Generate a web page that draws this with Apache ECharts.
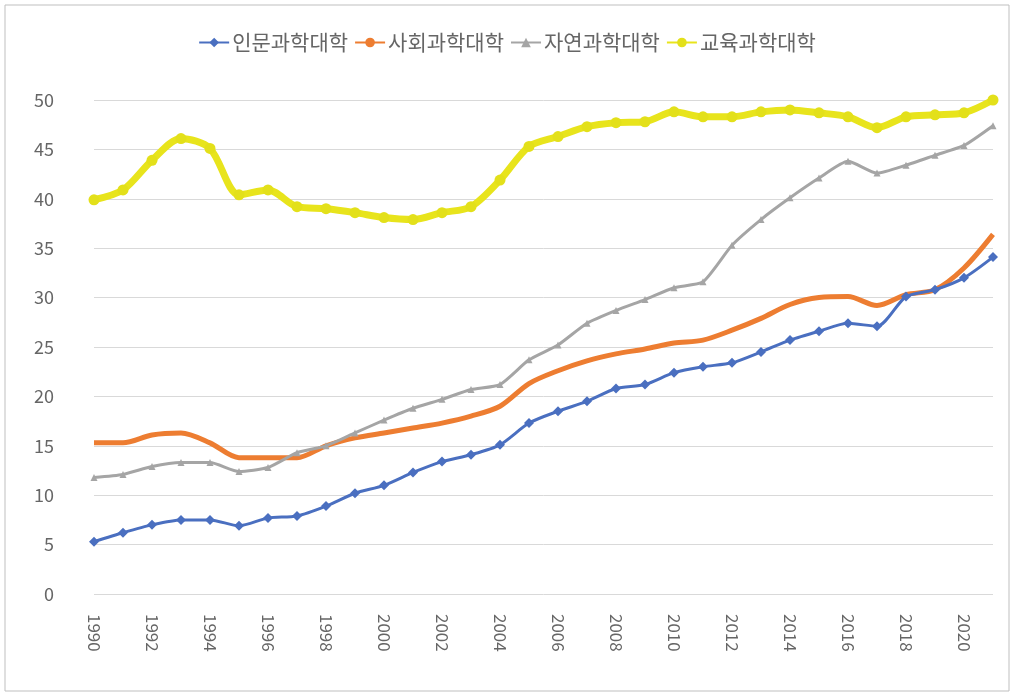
<!DOCTYPE html>
<html>
<head>
<meta charset="utf-8">
<script src="https://cdn.jsdelivr.net/npm/echarts@6/dist/echarts.min.js"></script>
<style>
  html, body { margin: 0; padding: 0; background: #fff; }
  #chart { width: 1014px; height: 695px; }
</style>
</head>
<body>
<div id="chart"></div>
<script>
// years 1990 - 2021
const years = [];
for (let y = 1990; y <= 2021; y++) years.push(String(y));

const seriesNames = ['인문과학대학', '사회과학대학', '자연과학대학', '교육과학대학'];

// 인문과학대학
const humanities = [5.3, 6.2, 7.0, 7.5, 7.5, 6.9, 7.7, 7.9, 8.9, 10.2,
  11.0, 12.3, 13.4, 14.1, 15.1, 17.3, 18.5, 19.5, 20.8, 21.2,
  22.4, 23.0, 23.4, 24.5, 25.7, 26.6, 27.4, 27.1, 30.1, 30.8,
  32.0, 34.1];
// 사회과학대학
const social = [15.3, 15.3, 16.1, 16.3, 15.3, 13.8, 13.8, 13.8, 15.0, 15.8,
  16.3, 16.8, 17.3, 18.0, 19.0, 21.3, 22.6, 23.6, 24.3, 24.8,
  25.4, 25.7, 26.7, 27.9, 29.3, 30.0, 30.1, 29.2, 30.3, 30.8,
  33.0, 36.4];
// 자연과학대학
const natural = [11.8, 12.1, 12.9, 13.3, 13.3, 12.4, 12.8, 14.3, 15.0, 16.3,
  17.6, 18.8, 19.7, 20.7, 21.2, 23.7, 25.2, 27.4, 28.7, 29.8,
  31.0, 31.6, 35.3, 37.9, 40.1, 42.1, 43.8, 42.6, 43.4, 44.4,
  45.4, 47.4];
// 교육과학대학
const education = [39.9, 40.9, 43.9, 46.1, 45.1, 40.4, 40.9, 39.2, 39.0, 38.6,
  38.1, 37.9, 38.6, 39.2, 41.9, 45.3, 46.3, 47.3, 47.7, 47.8,
  48.8, 48.3, 48.3, 48.8, 49.0, 48.7, 48.3, 47.2, 48.3, 48.5,
  48.7, 50.0];

const yTicks = { min: 0, max: 50, step: 5 };

const chart = echarts.init(document.getElementById('chart'));

const textColor = '#666666';
const font = '"Noto Sans CJK KR", "Noto Sans", sans-serif';

const option = {
  backgroundColor: '#ffffff',
  animation: false,
  textStyle: { fontFamily: font },
  graphic: [{
    type: 'rect',
    shape: { x: 5, y: 5, width: 1004, height: 686 },
    style: { fill: 'none', stroke: '#bfbfbf', lineWidth: 1 },
    silent: true
  }],
  legend: {
    top: 27,
    left: 'center',
    itemGap: 6,
    itemWidth: 30,
    itemHeight: 12,
    textStyle: { color: textColor, fontSize: 21, fontFamily: font, padding: [0, 0, 0, -2] },
    data: seriesNames
  },
  grid: {
    left: 94,
    right: 21,
    top: 100,
    bottom: 101
  },
  xAxis: {
    type: 'category',
    data: years,
    boundaryGap: false,
    axisLine: { show: false },
    axisTick: { show: false },
    axisLabel: {
      interval: 1,
      rotate: -90,
      color: textColor,
      fontSize: 17,
      margin: 20,
      fontFamily: font
    },
    splitLine: { show: false }
  },
  yAxis: {
    type: 'value',
    min: yTicks.min,
    max: yTicks.max,
    interval: yTicks.step,
    axisLine: { show: false },
    axisTick: { show: false },
    axisLabel: { color: textColor, fontSize: 18, margin: 40, fontFamily: font },
    splitLine: { lineStyle: { color: '#d9d9d9', width: 1 } }
  },
  series: [
    {
      name: seriesNames[0],
      type: 'line',
      data: humanities,
      smooth: 0.25,
      symbol: 'diamond',
      symbolSize: 10,
      z: 4,
      itemStyle: { color: '#4a6fc0' },
      lineStyle: { color: '#4a6fc0', width: 3 }
    },
    {
      name: seriesNames[1],
      type: 'line',
      data: social,
      smooth: 0.3,
      symbol: 'circle',
      showSymbol: false,
      z: 3,
      itemStyle: { color: '#ed7d31' },
      lineStyle: { color: '#ed7d31', width: 5 }
    },
    {
      name: seriesNames[2],
      type: 'line',
      data: natural,
      smooth: 0.2,
      symbol: 'triangle',
      symbolSize: 7,
      z: 3,
      itemStyle: { color: '#a5a5a5' },
      lineStyle: { color: '#a5a5a5', width: 3 }
    },
    {
      name: seriesNames[3],
      type: 'line',
      data: education,
      smooth: 0.3,
      symbol: 'circle',
      symbolSize: 11,
      z: 2,
      itemStyle: { color: '#e3e01a' },
      lineStyle: { color: '#e8e41c', width: 7 }
    }
  ]
};

chart.setOption(option);
</script>
</body>
</html>
